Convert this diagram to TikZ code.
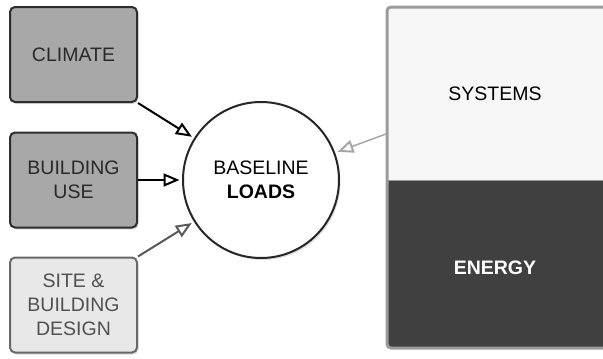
\documentclass[tikz,border=0pt]{standalone}
\usepackage{fontspec}
\setmainfont{Liberation Sans}
\usetikzlibrary{arrows.meta,shadows}
\definecolor{boxgray}{RGB}{168,168,168}
\definecolor{boxline}{RGB}{45,45,45}
\definecolor{sitefill}{RGB}{232,232,232}
\definecolor{siteline}{RGB}{105,105,105}
\definecolor{sitetext}{RGB}{80,80,80}
\definecolor{panelline}{RGB}{155,155,155}
\definecolor{systfill}{RGB}{247,247,247}
\definecolor{energyfill}{RGB}{64,64,64}
\begin{document}
\begin{tikzpicture}[x=1pt,y=-1pt,
  every node/.style={font=\fontsize{19.5}{24}\selectfont, align=center, inner sep=0pt},
  inbox/.style={rectangle, rounded corners=5pt, minimum width=127pt, minimum height=95pt,
    line width=2pt, drop shadow={opacity=0.25, shadow xshift=1.5pt, shadow yshift=-2pt}},
  darkbox/.style={inbox, draw=boxline, fill=boxgray, text=boxline!90!black},
  lightbox/.style={inbox, draw=siteline, fill=sitefill, text=sitetext},
  hub/.style={circle, draw=black!85, fill=white, line width=2pt, minimum size=156pt,
    drop shadow={opacity=0.25, shadow xshift=1.5pt, shadow yshift=-2pt}},
  feed/.style={line width=2pt, shorten >=2.5pt,
    -{Triangle[open, length=16pt, width=13pt, line width=2pt]}},
]
\useasboundingbox (0,0) rectangle (603,359);
\begin{scope}
\clip (0,0) rectangle (603,359);
% right panel
\node[rectangle, fill=systfill, minimum width=228pt, minimum height=173pt, anchor=north west] (sys) at (387,7) {};
\node[rectangle, fill=energyfill, minimum width=228pt, minimum height=168pt, anchor=north west] (eng) at (387,180) {};
\draw[panelline, line width=3pt, rounded corners=4pt] (387,7) rectangle (620,348);
\draw[panelline, line width=1pt] (387,180) -- (620,180);
\node at (495,94) {SYSTEMS};
\node[text=white] at (495,268) {\bfseries ENERGY};
\coordinate (pin) at (386,134);
\end{scope}

\node[darkbox] (climate) at (73.5,54.5) {CLIMATE};
\node[darkbox] (use) at (73.5,180) {BUILDING\\USE};
\node[lightbox] (site) at (73.5,305) {SITE \&\\BUILDING\\DESIGN};
\node[hub] (base) at (261,180) {BASELINE\\\bfseries LOADS};

\draw[feed, black] (climate.south east) -- (base);
\draw[feed, black] (use.east) -- (base.west);
\draw[feed, black!65] (site.north east) -- (base);
\draw[feed, black!35, line width=1.5pt] (pin) -- (base);
\end{tikzpicture}
\end{document}
